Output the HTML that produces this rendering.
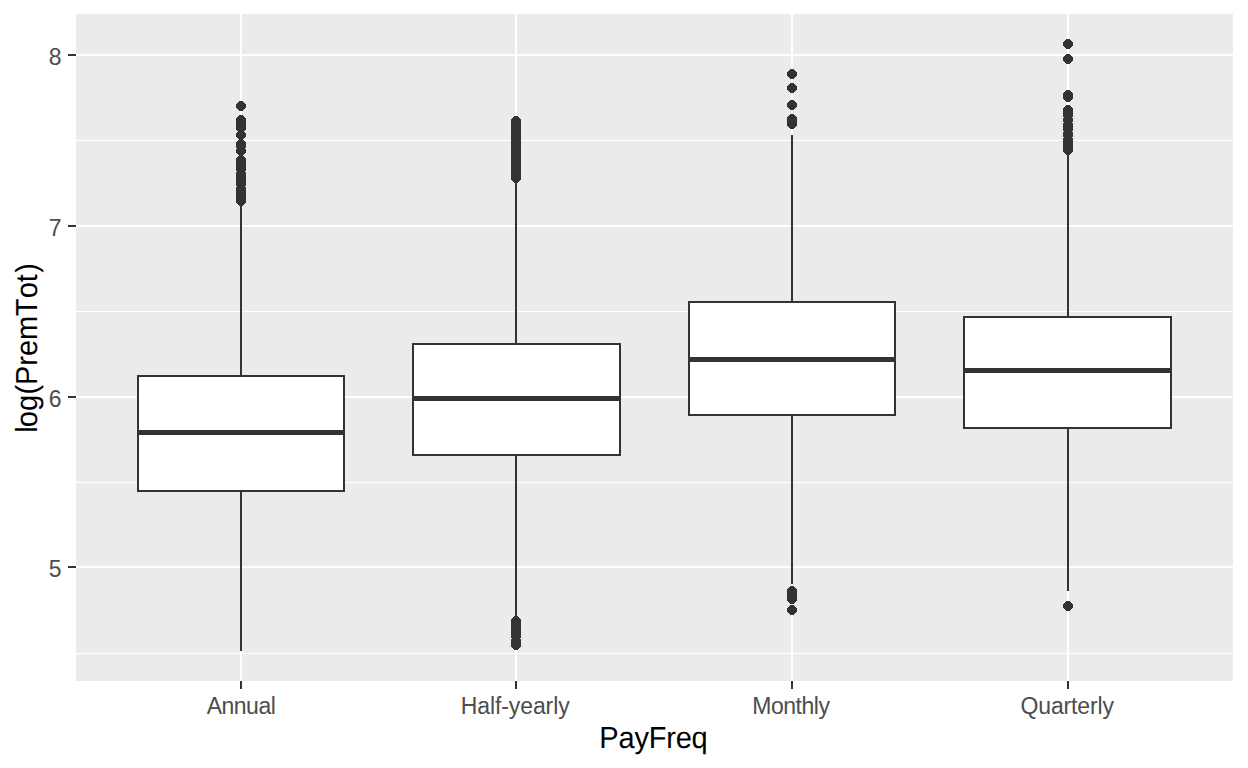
<!DOCTYPE html>
<html><head><meta charset="utf-8"><style>
html,body{margin:0;padding:0;background:#FFFFFF;width:1248px;height:768px;overflow:hidden;}
svg{display:block;font-family:"Liberation Sans",sans-serif;}
</style></head><body>
<svg width="1248" height="768" viewBox="0 0 1248 768">
<rect x="76" y="14" width="1157" height="667" fill="#EBEBEB"/>
<rect x="76" y="140.00" width="1157" height="1" fill="#FFFFFF"/>
<rect x="76" y="311.00" width="1157" height="1" fill="#FFFFFF"/>
<rect x="76" y="482.00" width="1157" height="1" fill="#FFFFFF"/>
<rect x="76" y="653.00" width="1157" height="1" fill="#FFFFFF"/>
<rect x="76" y="54.00" width="1157" height="2" fill="#FFFFFF"/>
<rect x="76" y="225.00" width="1157" height="2" fill="#FFFFFF"/>
<rect x="76" y="396.00" width="1157" height="2" fill="#FFFFFF"/>
<rect x="76" y="566.00" width="1157" height="2" fill="#FFFFFF"/>
<rect x="240.00" y="14" width="2" height="667" fill="#FFFFFF"/>
<rect x="515.00" y="14" width="2" height="667" fill="#FFFFFF"/>
<rect x="791.00" y="14" width="2" height="667" fill="#FFFFFF"/>
<rect x="1067.00" y="14" width="2" height="667" fill="#FFFFFF"/>
<rect x="240.00" y="201.00" width="2" height="175.00" fill="#333333"/>
<rect x="240.00" y="491.00" width="2" height="160.00" fill="#333333"/>
<rect x="138" y="376" width="206" height="115" fill="#FFFFFF" stroke="#333333" stroke-width="2"/>
<rect x="138" y="430.00" width="206" height="5.00" fill="#333333"/>
<path fill="#333333" shape-rendering="crispEdges" d="M239.30 101.00 L242.70 101.00 L246.00 104.30 L246.00 107.70 L242.70 111.00 L239.30 111.00 L236.00 107.70 L236.00 104.30ZM239.30 115.00 L242.70 115.00 L246.00 118.30 L246.00 121.70 L242.70 125.00 L239.30 125.00 L236.00 121.70 L236.00 118.30ZM239.30 119.00 L242.70 119.00 L246.00 122.30 L246.00 125.70 L242.70 129.00 L239.30 129.00 L236.00 125.70 L236.00 122.30ZM239.30 123.00 L242.70 123.00 L246.00 126.30 L246.00 129.70 L242.70 133.00 L239.30 133.00 L236.00 129.70 L236.00 126.30ZM239.30 130.00 L242.70 130.00 L246.00 133.30 L246.00 136.70 L242.70 140.00 L239.30 140.00 L236.00 136.70 L236.00 133.30ZM239.30 139.00 L242.70 139.00 L246.00 142.30 L246.00 145.70 L242.70 149.00 L239.30 149.00 L236.00 145.70 L236.00 142.30ZM239.30 141.00 L242.70 141.00 L246.00 144.30 L246.00 147.70 L242.70 151.00 L239.30 151.00 L236.00 147.70 L236.00 144.30ZM239.30 146.00 L242.70 146.00 L246.00 149.30 L246.00 152.70 L242.70 156.00 L239.30 156.00 L236.00 152.70 L236.00 149.30ZM239.30 155.00 L242.70 155.00 L246.00 158.30 L246.00 161.70 L242.70 165.00 L239.30 165.00 L236.00 161.70 L236.00 158.30ZM239.30 158.00 L242.70 158.00 L246.00 161.30 L246.00 164.70 L242.70 168.00 L239.30 168.00 L236.00 164.70 L236.00 161.30ZM239.30 161.00 L242.70 161.00 L246.00 164.30 L246.00 167.70 L242.70 171.00 L239.30 171.00 L236.00 167.70 L236.00 164.30ZM239.30 164.00 L242.70 164.00 L246.00 167.30 L246.00 170.70 L242.70 174.00 L239.30 174.00 L236.00 170.70 L236.00 167.30ZM239.30 169.00 L242.70 169.00 L246.00 172.30 L246.00 175.70 L242.70 179.00 L239.30 179.00 L236.00 175.70 L236.00 172.30ZM239.30 173.00 L242.70 173.00 L246.00 176.30 L246.00 179.70 L242.70 183.00 L239.30 183.00 L236.00 179.70 L236.00 176.30ZM239.30 176.00 L242.70 176.00 L246.00 179.30 L246.00 182.70 L242.70 186.00 L239.30 186.00 L236.00 182.70 L236.00 179.30ZM239.30 179.00 L242.70 179.00 L246.00 182.30 L246.00 185.70 L242.70 189.00 L239.30 189.00 L236.00 185.70 L236.00 182.30ZM239.30 184.00 L242.70 184.00 L246.00 187.30 L246.00 190.70 L242.70 194.00 L239.30 194.00 L236.00 190.70 L236.00 187.30ZM239.30 188.00 L242.70 188.00 L246.00 191.30 L246.00 194.70 L242.70 198.00 L239.30 198.00 L236.00 194.70 L236.00 191.30ZM239.30 192.00 L242.70 192.00 L246.00 195.30 L246.00 198.70 L242.70 202.00 L239.30 202.00 L236.00 198.70 L236.00 195.30ZM239.30 196.00 L242.70 196.00 L246.00 199.30 L246.00 202.70 L242.70 206.00 L239.30 206.00 L236.00 202.70 L236.00 199.30Z"/>
<rect x="515.00" y="180.00" width="2" height="164.00" fill="#333333"/>
<rect x="515.00" y="455.00" width="2" height="166.00" fill="#333333"/>
<rect x="413" y="344" width="207" height="111" fill="#FFFFFF" stroke="#333333" stroke-width="2"/>
<rect x="413" y="396.00" width="207" height="5.00" fill="#333333"/>
<path fill="#333333" shape-rendering="crispEdges" d="M514.30 116.00 L517.70 116.00 L521.00 119.30 L521.00 122.70 L517.70 126.00 L514.30 126.00 L511.00 122.70 L511.00 119.30ZM514.30 119.00 L517.70 119.00 L521.00 122.30 L521.00 125.70 L517.70 129.00 L514.30 129.00 L511.00 125.70 L511.00 122.30ZM514.30 122.00 L517.70 122.00 L521.00 125.30 L521.00 128.70 L517.70 132.00 L514.30 132.00 L511.00 128.70 L511.00 125.30ZM514.30 125.00 L517.70 125.00 L521.00 128.30 L521.00 131.70 L517.70 135.00 L514.30 135.00 L511.00 131.70 L511.00 128.30ZM514.30 128.00 L517.70 128.00 L521.00 131.30 L521.00 134.70 L517.70 138.00 L514.30 138.00 L511.00 134.70 L511.00 131.30ZM514.30 131.00 L517.70 131.00 L521.00 134.30 L521.00 137.70 L517.70 141.00 L514.30 141.00 L511.00 137.70 L511.00 134.30ZM514.30 134.00 L517.70 134.00 L521.00 137.30 L521.00 140.70 L517.70 144.00 L514.30 144.00 L511.00 140.70 L511.00 137.30ZM514.30 137.00 L517.70 137.00 L521.00 140.30 L521.00 143.70 L517.70 147.00 L514.30 147.00 L511.00 143.70 L511.00 140.30ZM514.30 140.00 L517.70 140.00 L521.00 143.30 L521.00 146.70 L517.70 150.00 L514.30 150.00 L511.00 146.70 L511.00 143.30ZM514.30 143.00 L517.70 143.00 L521.00 146.30 L521.00 149.70 L517.70 153.00 L514.30 153.00 L511.00 149.70 L511.00 146.30ZM514.30 146.00 L517.70 146.00 L521.00 149.30 L521.00 152.70 L517.70 156.00 L514.30 156.00 L511.00 152.70 L511.00 149.30ZM514.30 149.00 L517.70 149.00 L521.00 152.30 L521.00 155.70 L517.70 159.00 L514.30 159.00 L511.00 155.70 L511.00 152.30ZM514.30 152.00 L517.70 152.00 L521.00 155.30 L521.00 158.70 L517.70 162.00 L514.30 162.00 L511.00 158.70 L511.00 155.30ZM514.30 155.00 L517.70 155.00 L521.00 158.30 L521.00 161.70 L517.70 165.00 L514.30 165.00 L511.00 161.70 L511.00 158.30ZM514.30 158.00 L517.70 158.00 L521.00 161.30 L521.00 164.70 L517.70 168.00 L514.30 168.00 L511.00 164.70 L511.00 161.30ZM514.30 161.00 L517.70 161.00 L521.00 164.30 L521.00 167.70 L517.70 171.00 L514.30 171.00 L511.00 167.70 L511.00 164.30ZM514.30 164.00 L517.70 164.00 L521.00 167.30 L521.00 170.70 L517.70 174.00 L514.30 174.00 L511.00 170.70 L511.00 167.30ZM514.30 167.00 L517.70 167.00 L521.00 170.30 L521.00 173.70 L517.70 177.00 L514.30 177.00 L511.00 173.70 L511.00 170.30ZM514.30 170.00 L517.70 170.00 L521.00 173.30 L521.00 176.70 L517.70 180.00 L514.30 180.00 L511.00 176.70 L511.00 173.30ZM514.30 173.00 L517.70 173.00 L521.00 176.30 L521.00 179.70 L517.70 183.00 L514.30 183.00 L511.00 179.70 L511.00 176.30ZM514.30 616.00 L517.70 616.00 L521.00 619.30 L521.00 622.70 L517.70 626.00 L514.30 626.00 L511.00 622.70 L511.00 619.30ZM514.30 620.00 L517.70 620.00 L521.00 623.30 L521.00 626.70 L517.70 630.00 L514.30 630.00 L511.00 626.70 L511.00 623.30ZM514.30 624.00 L517.70 624.00 L521.00 627.30 L521.00 630.70 L517.70 634.00 L514.30 634.00 L511.00 630.70 L511.00 627.30ZM514.30 627.00 L517.70 627.00 L521.00 630.30 L521.00 633.70 L517.70 637.00 L514.30 637.00 L511.00 633.70 L511.00 630.30ZM514.30 631.00 L517.70 631.00 L521.00 634.30 L521.00 637.70 L517.70 641.00 L514.30 641.00 L511.00 637.70 L511.00 634.30ZM514.30 636.00 L517.70 636.00 L521.00 639.30 L521.00 642.70 L517.70 646.00 L514.30 646.00 L511.00 642.70 L511.00 639.30ZM514.30 640.00 L517.70 640.00 L521.00 643.30 L521.00 646.70 L517.70 650.00 L514.30 650.00 L511.00 646.70 L511.00 643.30Z"/>
<rect x="791.00" y="135.00" width="2" height="167.00" fill="#333333"/>
<rect x="791.00" y="415.00" width="2" height="169.00" fill="#333333"/>
<rect x="689" y="302" width="206" height="113" fill="#FFFFFF" stroke="#333333" stroke-width="2"/>
<rect x="689" y="357.00" width="206" height="5.00" fill="#333333"/>
<path fill="#333333" shape-rendering="crispEdges" d="M790.30 69.00 L793.70 69.00 L797.00 72.30 L797.00 75.70 L793.70 79.00 L790.30 79.00 L787.00 75.70 L787.00 72.30ZM790.30 83.00 L793.70 83.00 L797.00 86.30 L797.00 89.70 L793.70 93.00 L790.30 93.00 L787.00 89.70 L787.00 86.30ZM790.30 100.00 L793.70 100.00 L797.00 103.30 L797.00 106.70 L793.70 110.00 L790.30 110.00 L787.00 106.70 L787.00 103.30ZM790.30 114.00 L793.70 114.00 L797.00 117.30 L797.00 120.70 L793.70 124.00 L790.30 124.00 L787.00 120.70 L787.00 117.30ZM790.30 117.00 L793.70 117.00 L797.00 120.30 L797.00 123.70 L793.70 127.00 L790.30 127.00 L787.00 123.70 L787.00 120.30ZM790.30 119.00 L793.70 119.00 L797.00 122.30 L797.00 125.70 L793.70 129.00 L790.30 129.00 L787.00 125.70 L787.00 122.30ZM790.30 586.00 L793.70 586.00 L797.00 589.30 L797.00 592.70 L793.70 596.00 L790.30 596.00 L787.00 592.70 L787.00 589.30ZM790.30 590.00 L793.70 590.00 L797.00 593.30 L797.00 596.70 L793.70 600.00 L790.30 600.00 L787.00 596.70 L787.00 593.30ZM790.30 594.00 L793.70 594.00 L797.00 597.30 L797.00 600.70 L793.70 604.00 L790.30 604.00 L787.00 600.70 L787.00 597.30ZM790.30 605.00 L793.70 605.00 L797.00 608.30 L797.00 611.70 L793.70 615.00 L790.30 615.00 L787.00 611.70 L787.00 608.30Z"/>
<rect x="1067.00" y="150.00" width="2" height="167.00" fill="#333333"/>
<rect x="1067.00" y="428.00" width="2" height="163.00" fill="#333333"/>
<rect x="964" y="317" width="207" height="111" fill="#FFFFFF" stroke="#333333" stroke-width="2"/>
<rect x="964" y="368.00" width="207" height="5.00" fill="#333333"/>
<path fill="#333333" shape-rendering="crispEdges" d="M1066.30 39.00 L1069.70 39.00 L1073.00 42.30 L1073.00 45.70 L1069.70 49.00 L1066.30 49.00 L1063.00 45.70 L1063.00 42.30ZM1066.30 54.00 L1069.70 54.00 L1073.00 57.30 L1073.00 60.70 L1069.70 64.00 L1066.30 64.00 L1063.00 60.70 L1063.00 57.30ZM1066.30 90.00 L1069.70 90.00 L1073.00 93.30 L1073.00 96.70 L1069.70 100.00 L1066.30 100.00 L1063.00 96.70 L1063.00 93.30ZM1066.30 92.00 L1069.70 92.00 L1073.00 95.30 L1073.00 98.70 L1069.70 102.00 L1066.30 102.00 L1063.00 98.70 L1063.00 95.30ZM1066.30 105.00 L1069.70 105.00 L1073.00 108.30 L1073.00 111.70 L1069.70 115.00 L1066.30 115.00 L1063.00 111.70 L1063.00 108.30ZM1066.30 107.00 L1069.70 107.00 L1073.00 110.30 L1073.00 113.70 L1069.70 117.00 L1066.30 117.00 L1063.00 113.70 L1063.00 110.30ZM1066.30 110.00 L1069.70 110.00 L1073.00 113.30 L1073.00 116.70 L1069.70 120.00 L1066.30 120.00 L1063.00 116.70 L1063.00 113.30ZM1066.30 115.00 L1069.70 115.00 L1073.00 118.30 L1073.00 121.70 L1069.70 125.00 L1066.30 125.00 L1063.00 121.70 L1063.00 118.30ZM1066.30 120.00 L1069.70 120.00 L1073.00 123.30 L1073.00 126.70 L1069.70 130.00 L1066.30 130.00 L1063.00 126.70 L1063.00 123.30ZM1066.30 124.00 L1069.70 124.00 L1073.00 127.30 L1073.00 130.70 L1069.70 134.00 L1066.30 134.00 L1063.00 130.70 L1063.00 127.30ZM1066.30 129.00 L1069.70 129.00 L1073.00 132.30 L1073.00 135.70 L1069.70 139.00 L1066.30 139.00 L1063.00 135.70 L1063.00 132.30ZM1066.30 130.00 L1069.70 130.00 L1073.00 133.30 L1073.00 136.70 L1069.70 140.00 L1066.30 140.00 L1063.00 136.70 L1063.00 133.30ZM1066.30 135.00 L1069.70 135.00 L1073.00 138.30 L1073.00 141.70 L1069.70 145.00 L1066.30 145.00 L1063.00 141.70 L1063.00 138.30ZM1066.30 138.00 L1069.70 138.00 L1073.00 141.30 L1073.00 144.70 L1069.70 148.00 L1066.30 148.00 L1063.00 144.70 L1063.00 141.30ZM1066.30 142.00 L1069.70 142.00 L1073.00 145.30 L1073.00 148.70 L1069.70 152.00 L1066.30 152.00 L1063.00 148.70 L1063.00 145.30ZM1066.30 145.00 L1069.70 145.00 L1073.00 148.30 L1073.00 151.70 L1069.70 155.00 L1066.30 155.00 L1063.00 151.70 L1063.00 148.30ZM1066.30 601.00 L1069.70 601.00 L1073.00 604.30 L1073.00 607.70 L1069.70 611.00 L1066.30 611.00 L1063.00 607.70 L1063.00 604.30Z"/>
<rect x="68" y="54.00" width="8" height="2" fill="#333333"/>
<rect x="68" y="225.00" width="8" height="2" fill="#333333"/>
<rect x="68" y="396.00" width="8" height="2" fill="#333333"/>
<rect x="68" y="566.00" width="8" height="2" fill="#333333"/>
<rect x="240.00" y="681" width="2" height="8" fill="#333333"/>
<rect x="515.00" y="681" width="2" height="8" fill="#333333"/>
<rect x="791.00" y="681" width="2" height="8" fill="#333333"/>
<rect x="1067.00" y="681" width="2" height="8" fill="#333333"/>
<text transform="translate(61.5,64.80) scale(1,1.000)" x="0" y="0" text-anchor="end" font-size="23" fill="#4D4D4D">8</text>
<text transform="translate(61.5,235.80) scale(1,1.000)" x="0" y="0" text-anchor="end" font-size="23" fill="#4D4D4D">7</text>
<text transform="translate(61.5,406.80) scale(1,1.000)" x="0" y="0" text-anchor="end" font-size="23" fill="#4D4D4D">6</text>
<text transform="translate(61.5,576.80) scale(1,1.000)" x="0" y="0" text-anchor="end" font-size="23" fill="#4D4D4D">5</text>
<text transform="translate(241.25,714) scale(1,1.000)" x="0" y="0" text-anchor="middle" font-size="23" fill="#4D4D4D" textLength="69.20" lengthAdjust="spacing">Annual</text>
<text transform="translate(515.25,714) scale(1,1.000)" x="0" y="0" text-anchor="middle" font-size="23" fill="#4D4D4D" textLength="108.90" lengthAdjust="spacing">Half-yearly</text>
<text transform="translate(791.10,714) scale(1,1.000)" x="0" y="0" text-anchor="middle" font-size="23" fill="#4D4D4D" textLength="77.70" lengthAdjust="spacing">Monthly</text>
<text transform="translate(1067.20,714) scale(1,1.000)" x="0" y="0" text-anchor="middle" font-size="23" fill="#4D4D4D" textLength="93.40" lengthAdjust="spacing">Quarterly</text>
<text transform="translate(653.55,748) scale(1,1.050)" text-rendering="geometricPrecision" x="0" y="0" text-anchor="middle" font-size="29" fill="#000000" textLength="108.40" lengthAdjust="spacing">PayFreq</text>
<text transform="translate(37,347.80) rotate(-90) scale(1,1.050)" text-rendering="geometricPrecision" x="-84.85 -79.57 -63.20 -46.64 -37.14 -18.07 -8.27 7.90 31.60 49.62 65.49 75.18" y="0" font-size="29" fill="#000000">log(PremTot)</text>
</svg>
</body></html>
